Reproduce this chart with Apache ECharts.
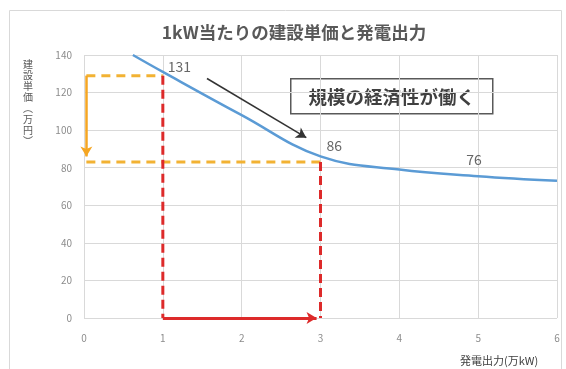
<!DOCTYPE html>
<html>
<head>
<meta charset="utf-8">
<script src="https://cdn.jsdelivr.net/npm/echarts@6/dist/echarts.min.js"></script>
<style>
  html, body { margin: 0; padding: 0; background: #fff; }
  #chart { width: 566px; height: 369px; }
</style>
</head>
<body>
<div id="chart"></div>
<script>
// 発電出力(万kW) と 1kW当たりの建設単価(万円)
const curveX = [0.62, 1, 2, 3, 4, 5, 6];
const curveY = [140, 131, 108, 86, 79, 75.5, 73];

// 数値ラベル
const markX = [1, 3, 5];
const markY = [131, 86, 76];
const markText = ['131', '86', '76'];

// 補助線 (点線)
const orangeTopY = 129;
const orangeLowY = 83;
const orangeStartX = 0.03;
const redX = [1, 3];

const xTicks = [0, 1, 2, 3, 4, 5, 6];
const yTicks = [0, 20, 40, 60, 80, 100, 120, 140];

const font = '"Noto Sans CJK JP", "Noto Sans", sans-serif';

const myChart = echarts.init(document.getElementById('chart'));

let curve = [];
for (let i = 0; i < curveX.length; i++) {
  curve.push([curveX[i], curveY[i]]);
}
let labels = [];
const labelOffsets = [[0, -5], [1, -11], [-17, -16]];
for (let i = 0; i < markX.length; i++) {
  labels.push({
    value: [markX[i], markY[i]],
    label: { offset: labelOffsets[i] },
    name: markText[i]
  });
}

myChart.setOption({
  animation: false,
  title: {
    text: '1kW当たりの建設単価と発電出力',
    left: 289, top: 19, textAlign: 'center',
    textStyle: { fontFamily: font, fontSize: 17.5, fontWeight: 'bold', color: '#595959' }
  },
  grid: { left: 84, right: 9, top: 55, bottom: 51 },
  xAxis: {
    type: 'value', min: 0, max: 6, interval: 1,
    axisLine: { show: false },
    axisTick: { show: false },
    axisLabel: { color: '#8c8c8c', fontSize: 10, margin: 15, fontFamily: font },
    splitLine: { show: true, lineStyle: { color: '#d9d9d9', width: 1 } }
  },
  yAxis: {
    type: 'value', min: 0, max: 140, interval: 20,
    axisLine: { show: false },
    axisTick: { show: false },
    axisLabel: { color: '#8c8c8c', fontSize: 10, margin: 12, fontFamily: font },
    splitLine: { show: true, lineStyle: { color: '#d9d9d9', width: 1 } }
  },
  graphic: [
    {
      type: 'rect', left: 7, top: 8, silent: true,
      shape: { width: 552, height: 360 },
      style: { fill: 'none', stroke: '#d9d9d9', lineWidth: 1 }
    },
    {
      type: 'text', left: 23, top: 59,
      style: {
        text: '建\n設\n単\n価\n︵\n万\n円\n︶',
        fontFamily: font, fontSize: 10, lineHeight: 11, fill: '#595959'
      }
    },
    {
      type: 'text', left: 460, top: 355,
      style: { text: '発電出力(万kW)', fontFamily: font, fontSize: 11, fill: '#404040' }
    },
    {
      type: 'group', left: 290, top: 78,
      children: [
        {
          type: 'rect', shape: { width: 202, height: 35 },
          style: { fill: '#fff', stroke: '#595959', lineWidth: 1.5 }
        },
        {
          type: 'text', x: 101, y: 18,
          style: {
            text: '規模の経済性が働く', align: 'center', verticalAlign: 'middle',
            fontFamily: font, fontSize: 18.5, fontWeight: 'bold', fill: '#404040'
          }
        }
      ]
    }
  ],
  series: [
    {
      name: 'orangeTop', type: 'line', symbol: 'none', z: 3,
      data: [[orangeStartX, orangeTopY], [redX[0], orangeTopY]],
      lineStyle: { color: '#f2b233', width: 3, type: [9, 6] }
    },
    {
      name: 'orangeLow', type: 'line', symbol: 'none', z: 3,
      data: [[orangeStartX, orangeLowY], [redX[1], orangeLowY]],
      lineStyle: { color: '#f2b233', width: 3, type: [9, 6] }
    },
    {
      name: 'red1', type: 'line', symbol: 'none', z: 4,
      data: [[redX[0], orangeTopY], [redX[0], 0]],
      lineStyle: { color: '#dd2a2a', width: 3, type: [9, 5] }
    },
    {
      name: 'red3', type: 'line', symbol: 'none', z: 4,
      data: [[redX[1], orangeLowY], [redX[1], 0]],
      lineStyle: { color: '#dd2a2a', width: 3, type: [9, 5] }
    },
    {
      name: '建設単価', type: 'line', smooth: 0.4, symbol: 'none', z: 5,
      data: curve,
      lineStyle: { color: '#5b9bd5', width: 2.5 },
      markLine: {
        silent: true, animation: false,
        symbol: ['none', 'arrow'], symbolSize: [9, 10],
        label: { show: false },
        data: [
          [{ coord: [orangeStartX, orangeTopY], lineStyle: { color: '#f5a623', width: 2.5, type: 'solid' } },
           { coord: [orangeStartX, 86] }],
          [{ coord: [redX[0], 0], lineStyle: { color: '#dd2a2a', width: 3, type: 'solid' } },
           { coord: [2.95, 0] }],
          [{ coord: [1.56, 127.5], lineStyle: { color: '#333', width: 1.5, type: 'solid' }, symbolSize: [6, 7] },
           { coord: [2.82, 96] }]
        ]
      }
    },
    {
      name: 'labels', type: 'scatter', symbolSize: 0, z: 6,
      data: labels,
      label: {
        show: true, position: 'right', formatter: p => p.name,
        fontFamily: font, fontSize: 14, color: '#404040'
      }
    }
  ]
});
</script>
</body>
</html>
